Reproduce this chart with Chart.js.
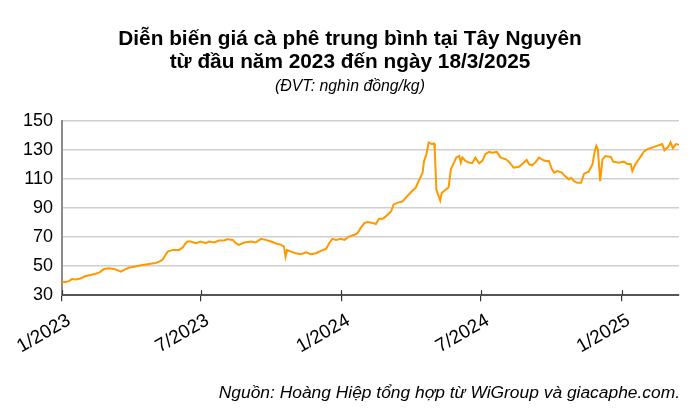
<!DOCTYPE html>
<html><head><meta charset="utf-8">
<script src="https://cdn.jsdelivr.net/npm/chart.js@4"></script>
<style>
html,body{margin:0;padding:0;background:#fff;}
#wrap{position:relative;width:700px;height:412px;font-family:"Liberation Sans",Arial,sans-serif;color:#000;}
#title{position:absolute;top:26px;left:0;width:700px;text-align:center;font-weight:bold;font-size:20.8px;line-height:23px;}
#sub{position:absolute;top:77px;left:0;width:700px;text-align:center;font-style:italic;font-size:15.8px;line-height:18px;}
#src{position:absolute;right:20px;top:382px;font-style:italic;font-size:17.4px;line-height:20px;white-space:nowrap;}
canvas{position:absolute;left:0;top:0;}
</style></head>
<body><div id="wrap">
<canvas id="c" width="700" height="412"></canvas>
<div id="title">Diễn biến giá cà phê trung bình tại Tây Nguyên<br>từ đầu năm 2023 đến ngày 18/3/2025</div>
<div id="sub">(ĐVT: nghìn đồng/kg)</div>
<div id="src">Nguồn: Hoàng Hiệp tổng hợp từ WiGroup và giacaphe.com.</div>
</div>
<script>
// days since 1/1/2023
const dayOffsets = [0,4,9,13,18,24,31,37,44,49,55,61,68,73,77,81,87,96,105,114,122,127,131,138,145,153,158,161,164,168,175,181,188,192,199,205,212,216,223,227,231,238,247,253,258,260,266,273,279,286,290,292,294,299,305,312,319,325,332,338,345,349,353,358,364,369,375,382,386,390,395,399,406,410,414,419,423,430,433,438,445,449,453,458,462,466,471,473,476,479,483,486,487,489,494,496,500,505,508,512,515,519,521,523,527,532,536,540,545,549,553,558,562,568,573,580,584,590,597,603,607,610,614,619,623,628,632,636,640,643,647,653,656,662,665,669,673,678,682,688,693,696,698,700,703,706,710,717,720,727,734,738,743,745,749,755,760,765,771,777,784,787,792,795,798,802,806];
const prices = [39.5,39.0,39.7,41.1,40.8,41.5,43.2,43.9,44.8,45.7,48.0,48.5,48.0,47.1,46.2,47.5,48.9,49.8,50.8,51.5,52.2,53.1,54.3,60.0,61.2,61.2,63.0,65.5,67.0,67.0,65.8,67.0,65.8,67.0,66.3,67.7,67.7,68.6,68.1,65.8,64.7,66.3,67.0,66.3,68.1,68.8,68.1,67.0,65.8,64.7,63.5,56.6,61.2,60.0,58.9,58.2,59.6,58.2,58.9,60.5,61.9,65.8,68.8,68.1,68.8,68.1,70.4,71.6,72.7,76.2,79.7,80.4,79.7,79.0,82.7,82.7,84.3,87.8,92.4,93.6,94.7,97.0,99.4,102.1,104.0,108.6,114.4,122.5,127.1,135.2,134.1,134.5,129.4,102.8,95.2,100.5,102.1,104.4,116.7,121.3,124.8,125.9,121.3,124.8,122.5,121.3,120.9,124.8,120.9,122.5,127.1,128.7,128.2,128.7,124.8,123.6,121.8,117.8,118.5,121.3,123.2,120.2,119.5,121.8,124.8,123.2,122.5,122.5,116.7,114.4,115.5,114.4,112.6,109.8,110.9,108.6,107.4,107.4,113.7,115.1,120.2,129.4,132.9,130.6,108.6,123.6,125.9,125.2,122.0,121.3,122.0,120.6,120.2,115.5,120.2,124.8,128.9,130.6,131.7,132.9,134.1,129.9,132.2,135.2,131.3,134.1,133.6];
const xTickDays = [0,181,365,547,731];
const xTickLabels = ['1/2023','7/2023','1/2024','7/2024','1/2025'];
const yTicks = [30,50,70,90,110,130,150];

const points = dayOffsets.map((d,i)=>({x:d,y:prices[i]}));

const crossTicks = {
  id:'crossTicks',
  afterDraw(chart){
    const xs = chart.scales.x, c = chart.ctx, b = chart.chartArea.bottom;
    c.save(); c.strokeStyle='#333'; c.lineWidth=1.2;
    xTickDays.forEach(v=>{const px=Math.round(xs.getPixelForValue(v))+0.5;c.beginPath();c.moveTo(px,b-5);c.lineTo(px,b);c.stroke();});
    c.restore();
  }
};

new Chart(document.getElementById('c'),{
  type:'line',
  data:{datasets:[{data:points,borderColor:'#ff9900',borderWidth:2,pointRadius:0,tension:0,fill:false}]},
  options:{
    responsive:false,animation:false,
    layout:{padding:{left:14,right:21,top:121,bottom:46}},
    plugins:{legend:{display:false},tooltip:{enabled:false}},
    scales:{
      x:{type:'linear',min:0,max:806,
        afterBuildTicks(s){s.ticks=xTickDays.map(v=>({value:v}));},
        ticks:{autoSkip:false,minRotation:30,maxRotation:30,labelOffset:7,padding:8,color:'#000',
          font:{family:'"Liberation Sans", Arial, sans-serif',size:19},
          callback(v){const i=xTickDays.indexOf(v);return i>=0?xTickLabels[i]:'';}},
        grid:{drawOnChartArea:false,drawTicks:true,tickLength:6,color:'#333',lineWidth:1.2},
        border:{color:'#555',width:2}
      },
      y:{min:30,max:150,
        afterBuildTicks(s){s.ticks=yTicks.map(v=>({value:v}));},
        ticks:{padding:9,color:'#000',font:{family:'"Liberation Sans", Arial, sans-serif',size:18}},
        grid:{color:'#cfcfcf',lineWidth:1.5,drawTicks:false},
        border:{color:'#8c8c8c',width:2}
      }
    }
  },
  plugins:[crossTicks]
});
</script>
</body></html>
